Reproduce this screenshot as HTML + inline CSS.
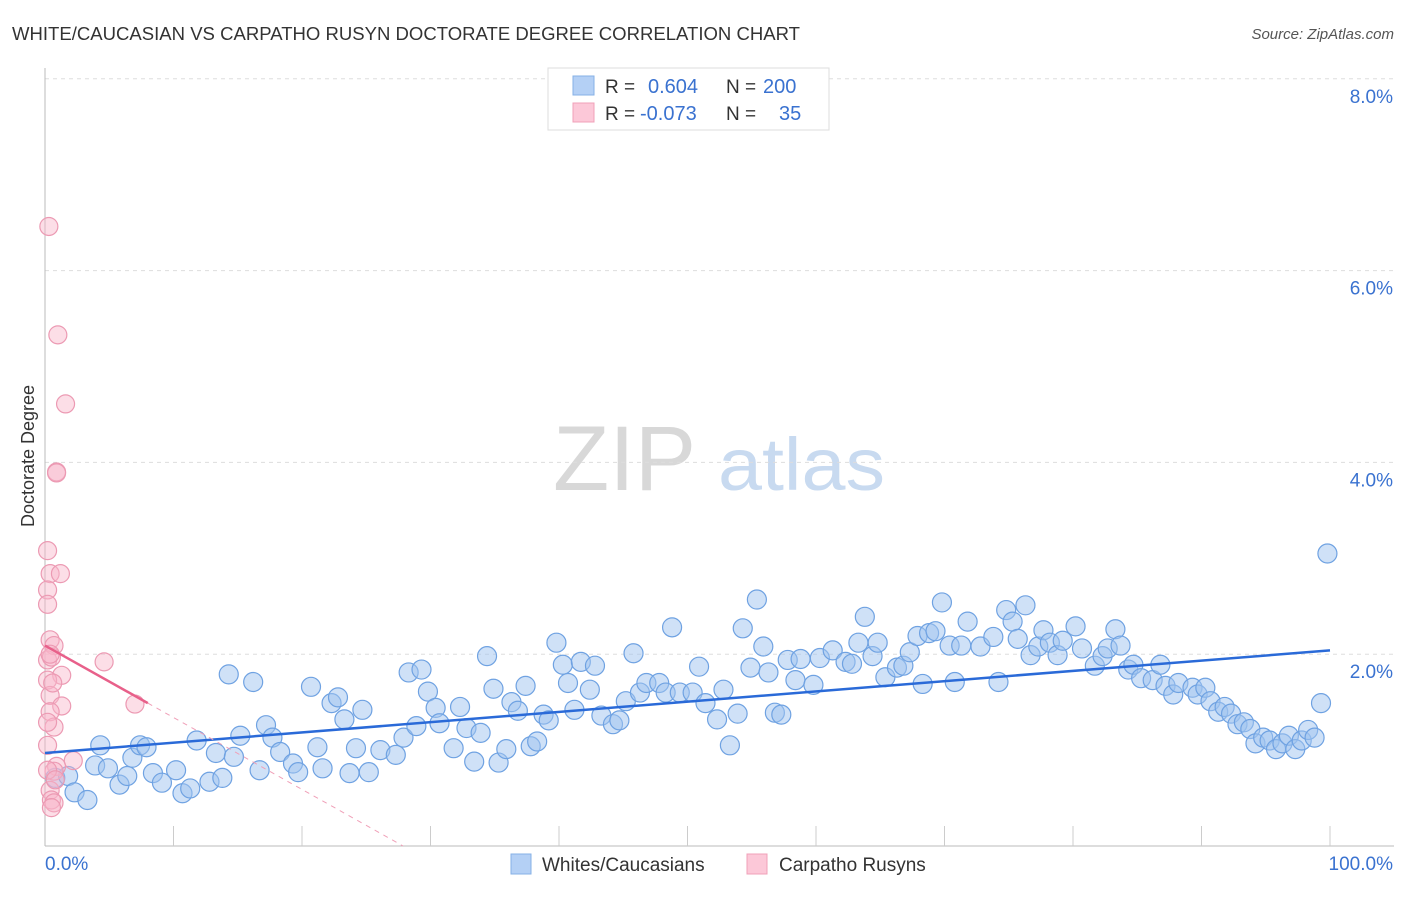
<!DOCTYPE html>
<html><head><meta charset="utf-8"><style>
body{margin:0;background:#fff;font-family:"Liberation Sans",sans-serif}
svg text{font-family:"Liberation Sans",sans-serif}
</style></head><body>
<svg id="c" width="1406" height="892" viewBox="0 0 1406 892" xmlns="http://www.w3.org/2000/svg">
<text x="12" y="40" font-size="18" fill="#333" textLength="788" lengthAdjust="spacingAndGlyphs">WHITE/CAUCASIAN VS CARPATHO RUSYN DOCTORATE DEGREE CORRELATION CHART</text>
<text x="1394" y="39" font-size="15" fill="#555" font-style="italic" text-anchor="end">Source: ZipAtlas.com</text>
<text x="34" y="456" font-size="18" fill="#333" text-anchor="middle" transform="rotate(-90 34 456)">Doctorate Degree</text>
<g>
<text x="553" y="490" font-size="92" fill="#d8d8d8" font-family="Liberation Serif, serif">ZIP</text>
<text x="718" y="490" font-size="74" fill="#c8daf0" textLength="167" lengthAdjust="spacingAndGlyphs">atlas</text>
</g>
<g id="grid"></g><g id="axes"></g><g id="pts"></g><g id="trend"></g>
<g>
<rect x="548" y="68" width="281" height="62" fill="#fff" stroke="#ddd"/>
<rect x="573" y="76" width="21" height="19" fill="#b4d0f5" stroke="#86b0e6"/>
<rect x="573" y="103" width="21" height="19" fill="#fcc8d8" stroke="#f0a0b8"/>
<text x="605" y="93" font-size="19" fill="#333">R = </text><text x="648" y="93" font-size="20" fill="#3a72d0">0.604</text>
<text x="726" y="93" font-size="19" fill="#333">N = </text><text x="763" y="93" font-size="20" fill="#3a72d0">200</text>
<text x="605" y="120" font-size="19" fill="#333">R = </text><text x="640" y="120" font-size="20" fill="#3a72d0">-0.073</text>
<text x="726" y="120" font-size="19" fill="#333">N = </text><text x="779" y="120" font-size="20" fill="#3a72d0">35</text>
</g>
<g>
<rect x="511" y="854" width="20" height="20" fill="#b4d0f5" stroke="#86b0e6"/>
<text x="542" y="871" font-size="19" fill="#333">Whites/Caucasians</text>
<rect x="747" y="854" width="20" height="20" fill="#fcc8d8" stroke="#f0a0b8"/>
<text x="779" y="871" font-size="19" fill="#333">Carpatho Rusyns</text>
</g>
</svg>
<script>
const yTicks=[2,4,6,8];
const yTickLabels=["2.0%","4.0%","6.0%","8.0%"];
const xTickLabels=["0.0%","100.0%"];
const blueX=[0.8,1.8,2.3,3.3,3.9,4.3,4.9,5.8,6.4,6.8,7.4,7.9,8.4,9.1,10.2,10.7,11.3,11.8,12.8,13.3,13.8,14.3,14.7,15.2,16.2,16.7,17.2,17.7,18.3,19.3,19.7,20.7,21.2,21.6,22.3,22.8,23.3,23.7,24.2,24.7,25.2,26.1,27.3,27.9,28.3,28.9,29.3,29.8,30.4,30.7,31.8,32.3,32.8,33.4,33.9,34.4,34.9,35.3,35.9,36.3,36.8,37.4,37.8,38.3,38.8,39.2,39.8,40.3,40.7,41.2,41.7,42.4,42.8,43.3,44.2,44.7,45.2,45.8,46.3,46.8,47.8,48.3,48.8,49.4,50.4,50.9,51.4,52.3,52.8,53.3,53.9,54.3,54.9,55.4,55.9,56.3,56.8,57.3,57.8,58.4,58.8,59.8,60.3,61.3,62.3,62.8,63.3,63.8,64.4,64.8,65.4,66.3,66.8,67.3,67.9,68.3,68.8,69.3,69.8,70.4,70.8,71.3,71.8,72.8,73.8,74.2,74.8,75.3,75.7,76.3,76.7,77.3,77.7,78.2,78.8,79.2,80.2,80.7,81.7,82.3,82.7,83.3,83.7,84.3,84.7,85.3,86.2,86.8,87.2,87.8,88.2,89.3,89.7,90.3,90.7,91.3,91.8,92.3,92.8,93.3,93.8,94.2,94.8,95.3,95.8,96.3,96.8,97.3,97.8,98.3,98.8,99.3,99.8];
const blueY=[0.71,0.73,0.56,0.48,0.84,1.05,0.81,0.64,0.73,0.92,1.05,1.03,0.76,0.66,0.79,0.55,0.60,1.10,0.67,0.97,0.71,1.79,0.93,1.15,1.71,0.79,1.26,1.13,0.98,0.86,0.77,1.66,1.03,0.81,1.49,1.55,1.32,0.76,1.02,1.42,0.77,1.00,0.95,1.13,1.81,1.25,1.84,1.61,1.44,1.28,1.02,1.45,1.23,0.88,1.18,1.98,1.64,0.87,1.01,1.50,1.41,1.67,1.04,1.09,1.37,1.31,2.12,1.89,1.70,1.42,1.92,1.63,1.88,1.36,1.27,1.31,1.51,2.01,1.60,1.70,1.70,1.60,2.28,1.60,1.60,1.87,1.49,1.32,1.63,1.05,1.38,2.27,1.86,2.57,2.08,1.81,1.39,1.37,1.94,1.73,1.95,1.68,1.96,2.04,1.92,1.90,2.12,2.39,1.98,2.12,1.76,1.86,1.88,2.02,2.19,1.69,2.22,2.24,2.54,2.09,1.71,2.09,2.34,2.08,2.18,1.71,2.46,2.34,2.16,2.51,1.99,2.08,2.25,2.12,1.99,2.14,2.29,2.06,1.88,1.98,2.06,2.26,2.09,1.84,1.89,1.75,1.73,1.89,1.67,1.58,1.70,1.65,1.58,1.65,1.51,1.40,1.45,1.38,1.27,1.29,1.22,1.07,1.13,1.10,1.01,1.07,1.15,1.01,1.10,1.21,1.13,1.49,3.05];
const pinkX=[0.3,1.0,1.6,0.9,0.9,0.2,0.4,1.2,0.2,0.2,0.4,0.7,0.2,0.5,1.3,0.2,4.6,0.4,1.3,7.0,0.4,0.7,0.2,2.2,0.9,0.7,0.4,0.5,0.7,0.5,0.2,0.4,0.6,0.2,0.8];
const pinkY=[6.46,5.33,4.61,3.90,3.89,3.08,2.84,2.84,2.67,2.52,2.15,2.09,1.94,1.97,1.78,1.73,1.92,1.57,1.46,1.48,1.40,1.24,1.05,0.89,0.83,0.78,0.58,0.48,0.45,0.40,0.79,2.00,1.70,1.29,0.69];
const blueTrend=[0.97,0.0107];
const pinkTrend=[2.09,-0.075];
const NS="http://www.w3.org/2000/svg";
const X0=45,X1=1330,Y0=846,PY=95.9;
const xs=v=>X0+(X1-X0)*v/100, ys=v=>Y0-v*PY;
function mk(t,a,p){const e=document.createElementNS(NS,t);for(const k in a)e.setAttribute(k,a[k]);p.appendChild(e);return e;}
const grid=document.getElementById('grid'),axes=document.getElementById('axes');
yTicks.forEach((t,i)=>{
 const l=mk('line',{x1:X0,x2:1394,y1:ys(t),y2:ys(t),stroke:'#ddd','stroke-dasharray':'4,4'},grid);
 
 
 const tx=mk('text',{x:1393,y:ys(t)+24,'font-size':19,fill:'#3a72d0','text-anchor':'end'},axes);
 tx.textContent=yTickLabels[i];
 
 
});
let a=mk('line',{x1:X0,x2:X0,y1:68,y2:846,stroke:'#bbb'},axes);


a=mk('line',{x1:X0,x2:1394,y1:846,y2:846,stroke:'#bbb'},axes);


for(let i=1;i<=10;i++){const t=mk('line',{x1:xs(i*10),x2:xs(i*10),y1:826,y2:846,stroke:'#ccc'},axes);
 
 }
let t0=mk('text',{x:45,y:870,'font-size':19,fill:'#3a72d0'},axes);t0.textContent=xTickLabels[0];


t0=mk('text',{x:1393,y:870,'font-size':19,fill:'#3a72d0','text-anchor':'end'},axes);t0.textContent=xTickLabels[1];


const pts=document.getElementById('pts');
blueX.forEach((x,i)=>{const c=mk('circle',{cx:xs(x),cy:ys(blueY[i]),r:9.5,fill:'rgba(160,196,240,0.5)',stroke:'#6fa2e2','stroke-width':1.2},pts);
 
 });
pinkX.forEach((x,i)=>{const c=mk('circle',{cx:xs(x),cy:ys(pinkY[i]),r:9,fill:'rgba(248,182,202,0.45)',stroke:'#ec9ab3','stroke-width':1.2},pts);
 
 });
const tr=document.getElementById('trend');
let l=mk('line',{x1:xs(0),y1:ys(blueTrend[0]),x2:xs(100),y2:ys(blueTrend[0]+100*blueTrend[1]),stroke:'#2a6ad8','stroke-width':2.5},tr);


const pEnd=Math.max(...pinkX)+1, pZero=-pinkTrend[0]/pinkTrend[1];
l=mk('line',{x1:xs(0),y1:ys(pinkTrend[0]),x2:xs(pEnd),y2:ys(pinkTrend[0]+pEnd*pinkTrend[1]),stroke:'#e8608a','stroke-width':2.5},tr);


l=mk('line',{x1:xs(pEnd),y1:ys(pinkTrend[0]+pEnd*pinkTrend[1]),x2:xs(pZero),y2:ys(0),stroke:'#f0a0b8','stroke-width':1,'stroke-dasharray':'5,5'},tr);


</script>
</body></html>
